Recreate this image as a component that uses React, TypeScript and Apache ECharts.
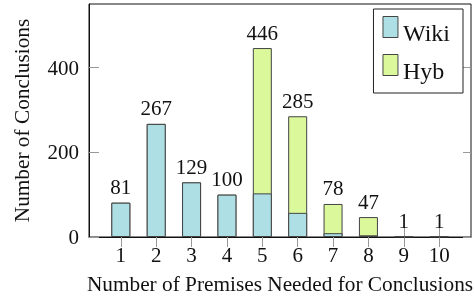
import React, { useEffect, useRef } from "react";
import * as echarts from "echarts";

const premises = [1, 2, 3, 4, 5, 6, 7, 8, 9, 10];
const wiki = [81, 267, 129, 100, 103, 57, 9, 4, 0, 0];
const hyb = [0, 0, 0, 0, 343, 228, 69, 43, 1, 1];
const yTicks = [0, 200, 400];

const FONT = "Liberation Serif";
// legend swatch: a 15x21 box in the upper part of a 15x33 item
const SWATCH = "path://M0,0H15V21H0Z M0,33H0.001";

export default function App() {
  const ref = useRef<HTMLDivElement>(null);
  useEffect(() => {
    if (!ref.current) return;
    const chart = echarts.init(ref.current, null, { renderer: "svg" });
    const tickStyle = { color: "#999", width: 1 };
    const totals = premises.map((_, i) => wiki[i] + hyb[i]);
    const txt = { fontFamily: FONT, color: "#111" };
    chart.setOption({
      animation: false,
      textStyle: { fontFamily: FONT },
      grid: {
        left: 89,
        right: 3,
        top: 4,
        bottom: 63,
        show: true,
        borderColor: "#111",
        borderWidth: 1,
        containLabel: false,
        outerBoundsMode: "none",
      },
      legend: {
        orient: "vertical",
        right: 11,
        top: 9,
        padding: [7, 13, 5, 9],
        icon: SWATCH,
        itemWidth: 15,
        itemHeight: 33,
        itemGap: 4,
        borderColor: "#222",
        borderWidth: 1,
        borderRadius: 0,
        backgroundColor: "#fff",
        textStyle: { ...txt, fontSize: 24 },
        data: [
          { name: "Wiki", itemStyle: { color: "#ADDFE5", borderColor: "#444", borderWidth: 1 } },
          { name: "Hyb", itemStyle: { color: "#DBF99B", borderColor: "#444", borderWidth: 1 } },
        ],
      },
      xAxis: [
        {
          type: "value",
          min: 0.1,
          max: 10.9,
          position: "bottom",
          name: "Number of Premises Needed for Conclusions",
          nameLocation: "middle",
          nameGap: 36,
          nameTextStyle: { ...txt, fontSize: 21.3 },
          axisLine: { show: true, lineStyle: { color: "#111" } },
          axisTick: { show: true, inside: true, length: 10, lineStyle: tickStyle, customValues: premises },
          axisLabel: { ...txt, fontSize: 21, margin: 7, customValues: premises },
          splitLine: { show: false },
        },
        {
          type: "value",
          min: 0.1,
          max: 10.9,
          position: "top",
          axisLine: { show: false },
          axisTick: { show: true, inside: true, length: 10, lineStyle: tickStyle, customValues: premises },
          axisLabel: { show: false },
          splitLine: { show: false },
        },
      ],
      yAxis: [
        {
          type: "value",
          min: 0,
          max: 550,
          position: "left",
          name: "Number of Conclusions",
          nameLocation: "middle",
          nameGap: 57,
          nameTextStyle: { ...txt, fontSize: 21.3 },
          axisLine: { show: true, lineStyle: { color: "#111" } },
          axisTick: { show: true, inside: true, length: 10, lineStyle: tickStyle, customValues: yTicks },
          axisLabel: { ...txt, fontSize: 21, margin: 10, customValues: yTicks },
          splitLine: { show: false },
        },
        {
          type: "value",
          min: 0,
          max: 550,
          position: "right",
          axisLine: { show: false },
          axisTick: { show: true, inside: true, length: 8, lineStyle: tickStyle, customValues: yTicks },
          axisLabel: { show: false },
          splitLine: { show: false },
        },
      ],
      series: [
        {
          name: "Hyb",
          type: "bar",
          barWidth: 19,
          barGap: "-100%",
          data: premises.map((p, i) => [p, totals[i]]),
          itemStyle: { color: "#DBF99B", borderColor: "#444", borderWidth: 1 },
          label: {
            show: true,
            position: "top",
            distance: 5,
            ...txt,
            fontSize: 21,
            formatter: (p: any) => String(p.value[1]),
          },
        },
        {
          name: "Wiki",
          type: "bar",
          barWidth: 19,
          barGap: "-100%",
          data: premises.map((p, i) => [p, wiki[i] > 0 ? wiki[i] : null]),
          itemStyle: { color: "#ADDFE5", borderColor: "#444", borderWidth: 1 },
        },
      ],
    });
    return () => chart.dispose();
  }, []);
  return (
    <div
      ref={ref}
      style={{ position: "fixed", left: 0, top: 0, width: 474, height: 300 }}
    />
  );
}
